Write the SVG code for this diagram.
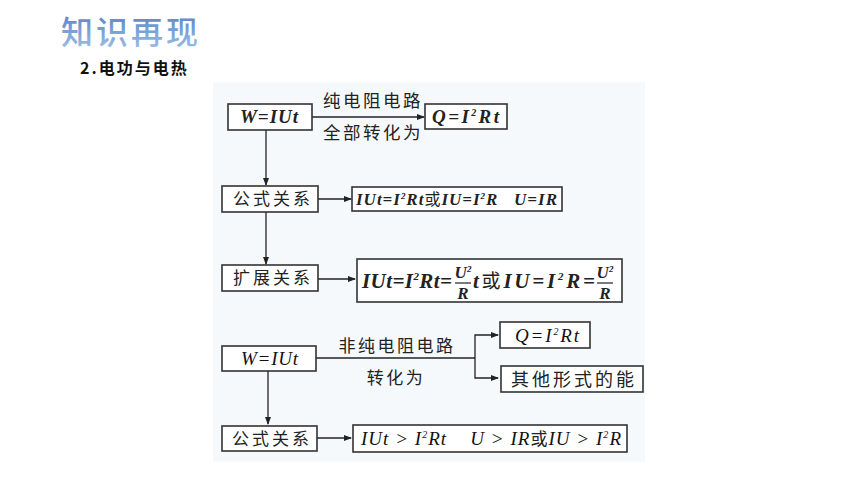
<svg xmlns="http://www.w3.org/2000/svg" width="860" height="484" viewBox="0 0 860 484">
<defs>
<linearGradient id="tg" x1="0" y1="0" x2="0" y2="1">
<stop offset="0" stop-color="#4a7bbf"/>
<stop offset="1" stop-color="#a6c4e8"/>
</linearGradient>
<marker id="ah" markerWidth="8" markerHeight="6" refX="7" refY="3" orient="auto" markerUnits="userSpaceOnUse">
<path d="M0,0 L8,3 L0,6 z" fill="#222"/>
</marker>
</defs>
<style>
.box{fill:#fff;stroke:#333;stroke-width:1.6}
.cn{font-family:"Noto Sans CJK SC",sans-serif;fill:#222}
.f{font-family:"Liberation Serif",serif;font-style:italic;font-weight:bold;fill:#222}
.fr{font-family:"Liberation Serif",serif;font-style:italic;font-weight:normal;fill:#111}
.ln{stroke:#222;stroke-width:1.3;fill:none}
</style>
<rect width="860" height="484" fill="#fff"/>
<text x="61" y="44" font-family="Noto Sans CJK SC,sans-serif" font-size="32" font-weight="500" fill="url(#tg)" letter-spacing="3">知识再现</text>
<text x="80" y="74" font-family="Noto Sans CJK SC,sans-serif" font-size="16" font-weight="bold" fill="#111" letter-spacing="2">2.电功与电热</text>
<rect x="213" y="82" width="432" height="380" fill="#f6f9fb"/>

<g id="connectors">
<line class="ln" x1="312" y1="117" x2="424" y2="117" marker-end="url(#ah)"/>
<line class="ln" x1="266" y1="130" x2="266" y2="185" marker-end="url(#ah)"/>
<line class="ln" x1="318" y1="199" x2="351" y2="199" marker-end="url(#ah)"/>
<line class="ln" x1="266" y1="212" x2="266" y2="264" marker-end="url(#ah)"/>
<line class="ln" x1="318" y1="279" x2="355" y2="279" marker-end="url(#ah)"/>
<polyline class="ln" points="316,358 475,358"/>
<polyline class="ln" points="475,358 475,335 498,335" marker-end="url(#ah)"/>
<polyline class="ln" points="475,358 475,378 498,378" marker-end="url(#ah)"/>
<line class="ln" x1="268" y1="371" x2="268" y2="424" marker-end="url(#ah)"/>
<line class="ln" x1="317" y1="438" x2="351" y2="438" marker-end="url(#ah)"/>
<text class="cn" x="373" y="107" font-size="17.5" text-anchor="middle" letter-spacing="2.5">纯电阻电路</text>
<text class="cn" x="373" y="139" font-size="17.5" text-anchor="middle" letter-spacing="2.5">全部转化为</text>
<text class="cn" x="397" y="352" font-size="17" text-anchor="middle" letter-spacing="2.5">非纯电阻电路</text>
<text class="cn" x="396" y="384" font-size="17" text-anchor="middle" letter-spacing="2.5">转化为</text>
</g>

<g id="n1"><rect class="box" x="228" y="104" width="84" height="26"/>
<text class="f" x="240" y="123" font-size="19" textLength="58" lengthAdjust="spacing">W=IUt</text></g>
<g id="n2"><rect class="box" x="425" y="104" width="82" height="25"/>
<text class="f" x="432" y="123" font-size="19" textLength="67" lengthAdjust="spacing">Q=I<tspan font-size="10" dy="-7">2</tspan><tspan dy="7">Rt</tspan></text></g>
<g id="n3"><rect class="box" x="222" y="186" width="96" height="26"/>
<text class="cn" x="233" y="205" font-size="17" letter-spacing="3">公式关系</text></g>
<g id="n4"><rect class="box" x="352" y="187" width="210" height="24"/>
<text class="f" x="356" y="205" font-size="17" textLength="201" lengthAdjust="spacing" xml:space="preserve">IUt=I<tspan font-size="9" dy="-6">2</tspan><tspan dy="6">Rt</tspan><tspan class="cn" font-style="normal" font-weight="normal" font-size="16">或</tspan>IU=I<tspan font-size="9" dy="-6">2</tspan><tspan dy="6">R   U=IR</tspan></text></g>
<g id="n5"><rect class="box" x="222" y="265" width="96" height="26"/>
<text class="cn" x="233" y="284" font-size="17" letter-spacing="3">扩展关系</text></g>
<g id="n6"><rect class="box" x="357" y="259" width="265" height="43"/>
<text class="f" x="362" y="288" font-size="21" textLength="90" lengthAdjust="spacing">IUt=I<tspan font-size="11" dy="-8">2</tspan><tspan dy="8">Rt=</tspan></text>
<text class="f" x="463" y="278" font-size="17" text-anchor="middle">U<tspan font-size="9" dy="-6">2</tspan></text>
<line x1="455" y1="283" x2="471" y2="283" stroke="#222" stroke-width="1.2"/>
<text class="f" x="463" y="299" font-size="17" text-anchor="middle">R</text>
<text class="f" x="473" y="288" font-size="21" textLength="122" lengthAdjust="spacing">t<tspan class="cn" font-style="normal" font-weight="normal" font-size="19">或</tspan>IU=I<tspan font-size="11" dy="-8">2</tspan><tspan dy="8">R=</tspan></text>
<text class="f" x="605" y="278" font-size="17" text-anchor="middle">U<tspan font-size="9" dy="-6">2</tspan></text>
<line x1="597" y1="283" x2="613" y2="283" stroke="#222" stroke-width="1.2"/>
<text class="f" x="605" y="299" font-size="17" text-anchor="middle">R</text></g>
<g id="n7"><rect class="box" x="222" y="346" width="94" height="25"/>
<text class="fr" x="241" y="365" font-size="19" textLength="57" lengthAdjust="spacing">W=IUt</text></g>
<g id="n8"><rect class="box" x="500" y="322" width="90" height="26"/>
<text class="fr" x="515" y="342" font-size="19" textLength="64" lengthAdjust="spacing">Q=I<tspan font-size="10" dy="-7">2</tspan><tspan dy="7">Rt</tspan></text></g>
<g id="n9"><rect class="box" x="501" y="366" width="142" height="26"/>
<text class="cn" x="511" y="386" font-size="18" letter-spacing="3">其他形式的能</text></g>
<g id="n10"><rect class="box" x="222" y="426" width="95" height="25"/>
<text class="cn" x="232" y="445" font-size="17" letter-spacing="3">公式关系</text></g>
<g id="n11"><rect class="box" x="353" y="425" width="274" height="27"/>
<text class="fr" x="361" y="445" font-size="19" textLength="260" lengthAdjust="spacing" xml:space="preserve">IUt &gt; I<tspan font-size="10" dy="-7">2</tspan><tspan dy="7">Rt    U &gt; IR</tspan><tspan class="cn" font-style="normal" font-size="17">或</tspan>IU &gt; I<tspan font-size="10" dy="-7">2</tspan><tspan dy="7">R</tspan></text></g>
</svg>
